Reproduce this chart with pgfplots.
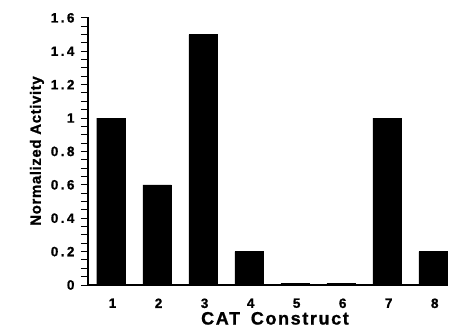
\documentclass[border=0pt]{standalone}
\usepackage{fontspec}
\setmainfont{Liberation Sans}
\newfontfamily\tickfont[LetterSpace=18, BoldFeatures={FakeBold=1.0}]{Liberation Sans}
\newfontfamily\labfont[LetterSpace=9, BoldFeatures={FakeBold=1.0}]{Liberation Sans}
\newfontfamily\ylabfont[LetterSpace=4, BoldFeatures={FakeBold=1.0}]{Liberation Sans}
\usepackage{pgfplots}
\pgfplotsset{compat=1.18}
\begin{document}
\begin{tikzpicture}
\path[use as bounding box] (-88pt,-45pt) rectangle (368pt,285pt);
\begin{axis}[
  at={(0,0)}, anchor=south west,
  scale only axis, width=360pt, height=268pt,
  xmin=0.5, xmax=8.32, ymin=0, ymax=1.605,
  axis x line*=bottom, axis y line*=left,
  axis line style={line width=1.4pt},
  ybar, bar width=0.62, bar shift=0pt,
  xtick={1,2,3,4,5,6,7,8},
  x tick style={draw=none},
  ytick={0,0.2,0.4,0.6,0.8,1,1.2,1.4,1.6},
  minor y tick num=3,
  tick align=outside,
  major tick length=7pt, minor tick length=7pt,
  y tick style={line width=1pt, black},
  /pgf/number format/assume math mode=true,
  ticklabel style={font=\tickfont\bfseries\fontsize{13.5}{14}\selectfont},
  yticklabel style={xshift=-3pt},
  xticklabel style={yshift=-3pt, xshift=1.5pt},
  xlabel={CAT\hspace{0.6em}Construct},
  ylabel={Normalized Activity},
  xlabel style={font=\labfont\bfseries\fontsize{18}{19}\selectfont, yshift=3pt, xshift=7pt},
  ylabel style={font=\ylabfont\bfseries\fontsize{15}{16}\selectfont, yshift=0pt},
]
\addplot[fill=black, draw=black] coordinates {(1,1.0) (2,0.6) (3,1.5) (4,0.2) (5,0.01) (6,0.01) (7,1.0) (8,0.2)};
\end{axis}
\end{tikzpicture}
\end{document}
